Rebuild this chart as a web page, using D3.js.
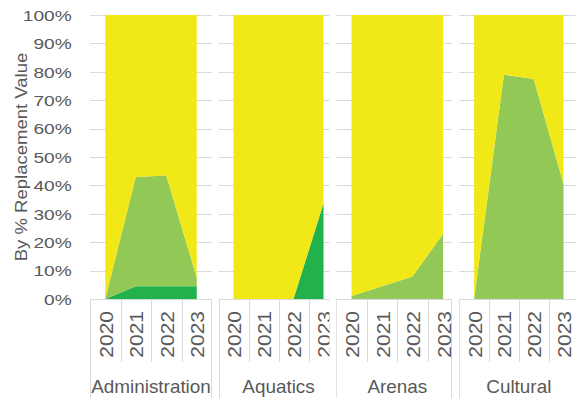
<!DOCTYPE html>
<html>
<head>
<meta charset="utf-8">
<script src="https://cdn.jsdelivr.net/npm/d3@7"></script>
<style>
  html, body { margin: 0; padding: 0; background: #fff; }
  svg { display: block; }
  text { font-family: "Liberation Sans", Arial, sans-serif; fill: #595959; }
</style>
</head>
<body>
<svg id="chart" width="576" height="398"></svg>
<script>
// ---- data -------------------------------------------------------------
const groups = ["Administration", "Aquatics", "Arenas", "Cultural"];
const years = ["2020", "2021", "2022", "2023"];
// share of replacement value (%), one row per group, one value per year
const lowerShare  = [[0, 4.5, 4.5, 4.5], [0, 0, 0, 33.7], [0, 0, 0, 0],          [0, 0, 0, 0]];
const middleShare = [[0, 38.5, 39, 3],   [0, 0, 0, 0],    [1.1, 4.5, 7.9, 23],   [0, 79, 77.5, 40.5]];
const upperShare  = [[100, 57, 56.5, 92.5], [100, 100, 100, 66.3], [98.9, 95.5, 92.1, 77], [100, 21, 22.5, 59.5]];
const yTickValues = [0, 0.1, 0.2, 0.3, 0.4, 0.5, 0.6, 0.7, 0.8, 0.9, 1];
const yTitle = "By % Replacement Value";

// ---- layout -----------------------------------------------------------
const W = 576, H = 398;
const plotTop = 15, plotBottom = 299;
const panelLeft = [90, 218.5, 336.3, 459.2];
const panelBand = [30.5, 30, 30.5, 29.8];
const panelClipRight = [212, 329.5, 452, 576];
const panelRightRule = [true, false, true, false];
const colors = { lower: "#22B14C", middle: "#92C856", upper: "#F0E817" };
const gridColor = "#D9D9D9";

const svg = d3.select("#chart");
const y = d3.scaleLinear().domain([0, 1]).range([plotBottom, plotTop]);
const crisp = v => Math.round(v) + 0.5;

const defs = svg.append("defs");

groups.forEach((name, i) => {
  const L = panelLeft[i], bw = panelBand[i], R = panelClipRight[i];
  const x = d3.scaleBand().domain(years).range([L, L + bw * years.length]);
  const cx = yr => x(yr) + x.bandwidth() / 2;

  const rows = years.map((yr, j) => ({
    year: yr,
    lower: lowerShare[i][j],
    middle: middleShare[i][j],
    upper: upperShare[i][j]
  }));
  const series = d3.stack()
    .keys(["lower", "middle", "upper"])
    .offset(d3.stackOffsetExpand)(rows);

  const clipId = "clip" + i;
  defs.append("clipPath").attr("id", clipId)
    .append("rect").attr("x", L).attr("y", 0).attr("width", R - L).attr("height", H);

  const g = svg.append("g").attr("clip-path", `url(#${clipId})`);

  // horizontal gridlines
  g.selectAll("line.grid").data(yTickValues.filter(t => t > 0)).join("line")
    .attr("class", "grid")
    .attr("x1", L).attr("x2", R)
    .attr("y1", d => crisp(y(d))).attr("y2", d => crisp(y(d)))
    .attr("stroke", gridColor).attr("stroke-width", 1);

  // stacked areas
  const area = d3.area()
    .x(d => cx(d.data.year))
    .y0(d => y(d[0]))
    .y1(d => y(d[1]));
  g.selectAll("path.area").data(series).join("path")
    .attr("class", "area")
    .attr("d", area)
    .attr("fill", s => colors[s.key]);

  // category axis line
  g.append("line")
    .attr("x1", L).attr("x2", R)
    .attr("y1", crisp(y(0))).attr("y2", crisp(y(0)))
    .attr("stroke", gridColor).attr("stroke-width", 1);

  // tick marks between years
  g.selectAll("line.tick").data(years.slice(1)).join("line")
    .attr("class", "tick")
    .attr("x1", d => crisp(x(d))).attr("x2", d => crisp(x(d)))
    .attr("y1", y(0)).attr("y2", 362)
    .attr("stroke", gridColor).attr("stroke-width", 1);

  // group boundary rules
  const rules = [L];
  if (panelRightRule[i]) rules.push(R - 1);
  g.selectAll("line.rule").data(rules).join("line")
    .attr("class", "rule")
    .attr("x1", d => crisp(d)).attr("x2", d => crisp(d))
    .attr("y1", y(0)).attr("y2", H)
    .attr("stroke", gridColor).attr("stroke-width", 1);

  // year labels
  g.selectAll("text.year").data(years).join("text")
    .attr("class", "year")
    .attr("transform", d => `translate(${cx(d) + 7.5},311) rotate(-90) scale(1.165,1)`)
    .attr("text-anchor", "end")
    .attr("font-size", "18px")
    .text(d => d);

  // group label
  svg.append("text")
    .attr("transform", `translate(${L + bw * years.length / 2},393) scale(1.05,1)`)
    .attr("text-anchor", "middle")
    .attr("font-size", "18px")
    .text(name);
});

// value axis labels
svg.append("g").selectAll("text").data(yTickValues).join("text")
  .attr("transform", d => `translate(71.7,${y(d)}) scale(1.276,1)`)
  .attr("text-anchor", "end")
  .attr("dy", "0.38em")
  .attr("font-size", "15px")
  .text(d3.format(".0%"));

// value axis title
svg.append("text")
  .attr("transform", `translate(26.5,${(plotTop + plotBottom) / 2}) rotate(-90) scale(1.158,1)`)
  .attr("text-anchor", "middle")
  .attr("font-size", "16px")
  .text(yTitle);
</script>
</body>
</html>
